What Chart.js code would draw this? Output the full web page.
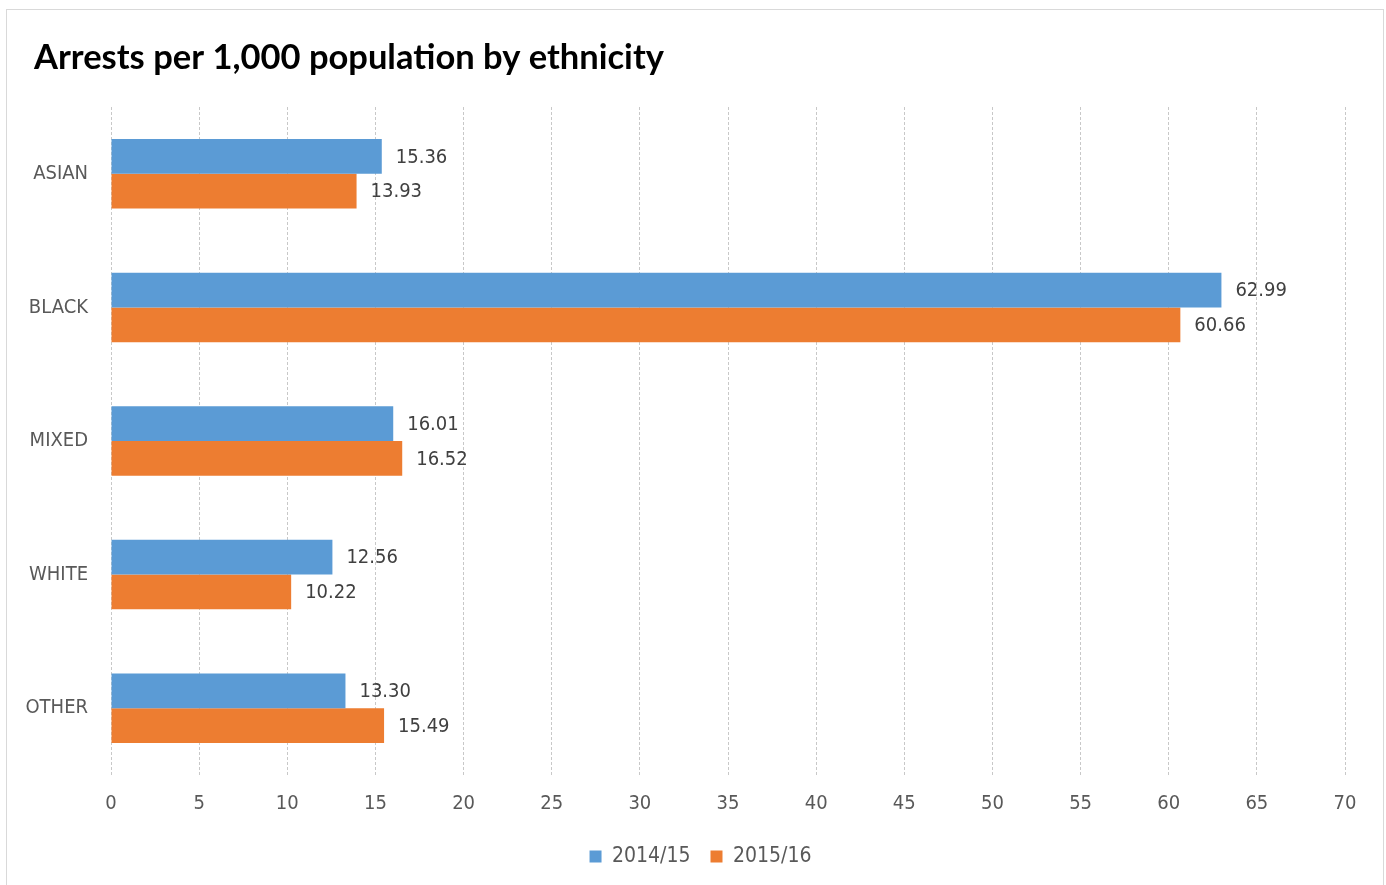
<!DOCTYPE html>
<html>
<head>
<meta charset="utf-8">
<script src="https://cdn.jsdelivr.net/npm/chart.js@4.4.1/dist/chart.umd.min.js"></script>
<style>
  html, body { margin: 0; padding: 0; background: #fff; }
  #frame {
    position: absolute; left: 6px; top: 9px; width: 1378px; height: 880px;
    border: 1px solid #d9d9d9; box-sizing: border-box;
  }
  #wrap { position: absolute; left: 0; top: 0; width: 1386px; height: 885px; }
</style>
</head>
<body>
<div id="frame"></div>
<div id="wrap"><canvas id="chart"></canvas></div>
<script>
const categories = ["ASIAN", "BLACK", "MIXED", "WHITE", "OTHER"];
const seriesNames = ["2014/15", "2015/16"];
const values2014 = [15.36, 62.99, 16.01, 12.56, 13.30];
const values2015 = [13.93, 60.66, 16.52, 10.22, 15.49];
const xTicks = [0, 5, 10, 15, 20, 25, 30, 35, 40, 45, 50, 55, 60, 65, 70];
const chartTitle = "Arrests per 1,000 population by ethnicity";

const smallFont = "'Liberation Sans Narrow', 'DejaVu Sans Condensed', sans-serif";
const textGrey = "#595959";

// title in the top-left corner, above the plot
const cornerTitle = {
  id: "cornerTitle",
  afterDraw(chart) {
    const ctx = chart.ctx;
    ctx.save();
    ctx.font = "bold 34.5px Lato, sans-serif";
    ctx.fillStyle = "#000";
    ctx.textAlign = "left";
    ctx.textBaseline = "middle";
    ctx.fillText(chartTitle, 34, 58);
    ctx.restore();
  }
};

// centre the legend on the whole frame rather than on the padded area
const legendShift = {
  id: "legendShift",
  afterLayout(chart) {
    const lg = chart.legend;
    lg.left += 18;
    lg.right += 18;
  }
};

// value labels just past the end of each bar
const valueLabels = {
  id: "valueLabels",
  afterDatasetsDraw(chart) {
    const ctx = chart.ctx;
    ctx.save();
    ctx.font = "20px " + smallFont;
    ctx.fillStyle = "#404040";
    ctx.textAlign = "left";
    ctx.textBaseline = "middle";
    chart.data.datasets.forEach((ds, i) => {
      chart.getDatasetMeta(i).data.forEach((bar, j) => {
        ctx.fillText(ds.data[j].toFixed(2), bar.x + 14, bar.y + 1);
      });
    });
    ctx.restore();
  }
};

new Chart(document.getElementById("chart"), {
  type: "bar",
  data: {
    labels: categories,
    datasets: [
      { label: seriesNames[0], data: values2014, backgroundColor: "#5b9bd5" },
      { label: seriesNames[1], data: values2015, backgroundColor: "#ed7d31" }
    ]
  },
  options: {
    indexAxis: "y",
    responsive: true,
    maintainAspectRatio: false,
    animation: false,
    layout: { padding: { left: 20, right: 41, top: 107, bottom: 8 } },
    datasets: { bar: { barPercentage: 1, categoryPercentage: 0.52 } },
    plugins: {
      title: { display: false },
      legend: {
        position: "bottom",
        labels: {
          color: textGrey,
          font: { family: smallFont, size: 21 },
          boxWidth: 12,
          boxHeight: 12,
          padding: 20
        }
      },
      tooltip: { enabled: false }
    },
    scales: {
      x: {
        min: 0,
        max: 70,
        afterBuildTicks: (scale) => { scale.ticks = xTicks.map(v => ({ value: v })); },
        afterFit: (scale) => { scale.height -= 7; },
        grid: { color: "#c8c8c8", drawTicks: false },
        border: { display: false, dash: [3, 2] },
        ticks: { color: textGrey, font: { family: smallFont, size: 20 }, padding: 17 }
      },
      y: {
        grid: { display: false, drawTicks: false },
        border: { display: false },
        afterFit: (scale) => { scale.width = 91; },
        ticks: { color: textGrey, font: { family: smallFont, size: 20 }, padding: 23 }
      }
    }
  },
  plugins: [valueLabels, cornerTitle, legendShift]
});
</script>
</body>
</html>
